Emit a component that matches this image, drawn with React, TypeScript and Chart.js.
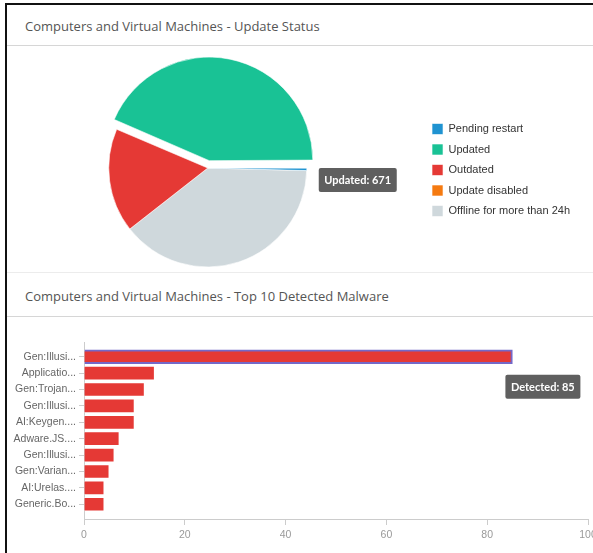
import React, { useEffect, useRef } from 'react';
import { Chart, registerables } from 'chart.js';

Chart.register(...registerables);

// ---- Data ----
const statusTitle = 'Computers and Virtual Machines - Update Status';
const statusLabels = ['Pending restart', 'Updated', 'Outdated', 'Update disabled', 'Offline for more than 24h'];
const statusValues = [6, 671, 261, 0, 600];
const statusColors = ['#1f93d1', '#19c295', '#e53935', '#f57a10', '#cfd8dc'];
const statusHighlighted = 1; // "Updated" slice is pulled out and shows the tooltip

const malwareTitle = 'Computers and Virtual Machines - Top 10 Detected Malware';
const malwareLabels = [
  'Gen:Illusi...', 'Applicatio...', 'Gen:Trojan...', 'Gen:Illusi...', 'AI:Keygen....',
  'Adware.JS....', 'Gen:Illusi...', 'Gen:Varian...', 'AI:Urelas....', 'Generic.Bo...',
];
const malwareCounts = [85, 14, 12, 10, 10, 7, 6, 5, 4, 4];
const malwareSeries = 'Detected';
const malwareHighlighted = 0;
const xMin = 0;
const xMax = 100;
const xStep = 20;

const FONT = '"Liberation Sans", Arial, Helvetica, sans-serif';

function drawTip(ctx: CanvasRenderingContext2D, text: string, x: number, y: number) {
  ctx.save();
  ctx.font = `bold 11px Lato, ${FONT}`;
  const w = Math.round(ctx.measureText(text).width + 11);
  const h = 24;
  ctx.fillStyle = 'rgba(88,88,88,0.96)';
  ctx.beginPath();
  const r = 2;
  ctx.moveTo(x + r, y);
  ctx.lineTo(x + w - r, y);
  ctx.quadraticCurveTo(x + w, y, x + w, y + r);
  ctx.lineTo(x + w, y + h - r);
  ctx.quadraticCurveTo(x + w, y + h, x + w - r, y + h);
  ctx.lineTo(x + r, y + h);
  ctx.quadraticCurveTo(x, y + h, x, y + h - r);
  ctx.lineTo(x, y + r);
  ctx.quadraticCurveTo(x, y, x + r, y);
  ctx.closePath();
  ctx.fill();
  ctx.fillStyle = '#ffffff';
  ctx.textBaseline = 'middle';
  ctx.textAlign = 'left';
  ctx.fillText(text, x + 5.5, y + h / 2 + 0.5);
  ctx.restore();
}

const pieTipPlugin = {
  id: 'pieTip',
  afterDraw(chart: any) {
    const meta = chart.getDatasetMeta(0);
    const n = statusLabels.length;
    const idx = n - 1 - statusHighlighted; // data is drawn in reversed order
    const arc = meta.data[idx];
    if (!arc) return;
    const text = `${statusLabels[statusHighlighted]}: ${statusValues[statusHighlighted]}`;
    drawTip(chart.ctx, text, arc.x + arc.outerRadius + 12, arc.y);
  },
};

const barTipPlugin = {
  id: 'barTip',
  afterDraw(chart: any) {
    const meta = chart.getDatasetMeta(0);
    const bar = meta.data[malwareHighlighted];
    if (!bar) return;
    const text = `${malwareSeries}: ${malwareCounts[malwareHighlighted]}`;
    drawTip(chart.ctx, text, bar.x - 7, bar.y + 18);
  },
};

function PieChart() {
  const ref = useRef<HTMLCanvasElement>(null);
  useEffect(() => {
    if (!ref.current) return;
    const rev = <T,>(a: T[]) => a.slice().reverse();
    const chart = new Chart(ref.current, {
      type: 'pie',
      data: {
        labels: rev(statusLabels),
        datasets: [
          {
            data: rev(statusValues),
            backgroundColor: rev(statusColors),
            borderColor: '#ffffff',
            borderWidth: 0.6,
            offset: rev(statusLabels.map((_, i) => (i === statusHighlighted ? 30 : 0))),
          } as any,
        ],
      },
      options: {
        animation: false,
        responsive: false,
        rotation: 91.5,
        radius: 99,
        layout: { padding: { top: 18, left: 7, right: 13, bottom: 0 } },
        plugins: {
          tooltip: { enabled: false },
          legend: {
            position: 'right',
            reverse: true,
            align: 'center',
            title: { display: true, text: '', padding: 0, font: { size: 4, lineHeight: 1 } },
            labels: {
              boxWidth: 11,
              boxHeight: 11,
              padding: 9.5,
              color: '#333333',
              font: { size: 11, family: FONT },
            },
          },
        },
      } as any,
      plugins: [pieTipPlugin],
    });
    return () => chart.destroy();
  }, []);
  return <canvas ref={ref} width={607} height={226} style={{ width: 607, height: 226, display: 'block' }} />;
}

function BarChart() {
  const ref = useRef<HTMLCanvasElement>(null);
  useEffect(() => {
    if (!ref.current) return;
    const chart = new Chart(ref.current, {
      type: 'bar',
      data: {
        labels: malwareLabels,
        datasets: [
          {
            label: malwareSeries,
            data: malwareCounts,
            backgroundColor: '#e53935',
            borderColor: malwareCounts.map((_, i) => (i === malwareHighlighted ? '#7468c8' : '#ffffff')),
            borderWidth: malwareCounts.map((_, i) => (i === malwareHighlighted ? 2 : 1)),
            barThickness: 14,
          } as any,
        ],
      },
      options: {
        indexAxis: 'y',
        animation: false,
        responsive: false,
        layout: { padding: { top: 25, right: 22, left: 0, bottom: 0 } },
        plugins: { legend: { display: false }, tooltip: { enabled: false } },
        scales: {
          x: {
            min: xMin,
            max: xMax,
            ticks: { stepSize: xStep, color: '#9a9a9a', font: { size: 10.5, family: FONT }, padding: 4 },
            grid: { drawOnChartArea: false, drawTicks: true, tickLength: 6, color: '#cccccc' },
            border: { color: '#cccccc' },
            afterFit: (s: any) => {
              s.height = 34;
            },
          },
          y: {
            ticks: { color: '#666666', font: { size: 10.5, family: FONT }, padding: 3, autoSkip: false },
            grid: { drawOnChartArea: false, tickLength: 5, offset: false, color: '#cccccc' },
            border: { color: '#cccccc' },
            afterFit: (s: any) => {
              s.width = 76;
            },
            afterBuildTicks: (s: any) => {
              s._startValue -= 0.4;
              s._valueRange += 0.8;
            },
          },
        },
      } as any,
      plugins: [barTipPlugin],
    });
    return () => chart.destroy();
  }, []);
  return <canvas ref={ref} width={602} height={236} style={{ width: 602, height: 236, display: 'block' }} />;
}

const titleStyle: React.CSSProperties = {
  position: 'absolute',
  left: 25,
  fontFamily: `"Open Sans", ${FONT}`,
  fontSize: 13,
  color: '#555555',
  whiteSpace: 'nowrap',
  lineHeight: '16px',
};

export default function App() {
  return (
    <div
      style={{
        position: 'fixed',
        left: 0,
        top: 0,
        width: 593,
        height: 553,
        overflow: 'hidden',
        background: '#ffffff',
      }}
    >
      <div style={{ position: 'absolute', left: -14, top: 46 }}>
        <PieChart />
      </div>
      <div style={{ position: 'absolute', left: 8, top: 317 }}>
        <BarChart />
      </div>
      <div style={{ ...titleStyle, top: 18 }}>{statusTitle}</div>
      <div style={{ ...titleStyle, top: 288 }}>{malwareTitle}</div>
      <div style={{ position: 'absolute', left: 7, top: 45, width: 600, height: 1, background: '#d6d6d6' }} />
      <div style={{ position: 'absolute', left: 7, top: 272, width: 600, height: 1, background: '#ececec' }} />
      <div style={{ position: 'absolute', left: 7, top: 316, width: 600, height: 1, background: '#d6d6d6' }} />
      <div style={{ position: 'absolute', left: 5, top: 3, width: 600, height: 2, background: '#111111' }} />
      <div style={{ position: 'absolute', left: 5, top: 3, width: 2, height: 560, background: '#111111' }} />
    </div>
  );
}
